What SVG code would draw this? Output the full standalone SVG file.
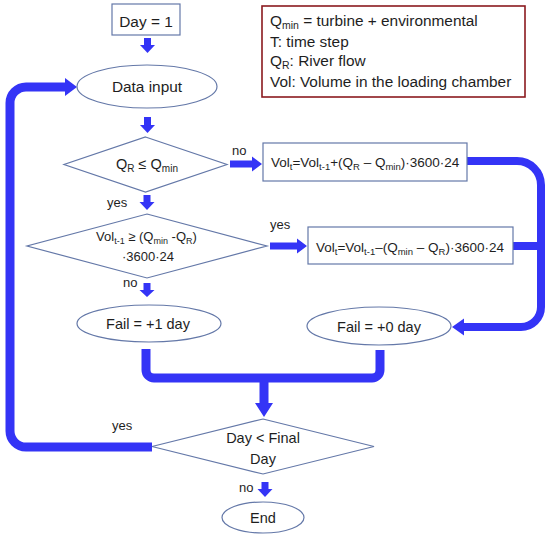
<svg xmlns="http://www.w3.org/2000/svg" width="550" height="537" viewBox="0 0 550 537">
<style>
.s{fill:#fff;stroke:#6478a8;stroke-width:1.2}
.t{font-family:"Liberation Sans",Arial,sans-serif;fill:#1e1e1e}
.m{font-size:15.4px}
.b{font-size:13.5px}
.l{font-size:13px}
.c{fill:none;stroke:#3434f6;stroke-linejoin:round}
.a{fill:#3434f6}
</style>
<rect width="550" height="537" fill="#fff"/>
<g id="connectors">
<polygon class="a" points="144,38 151,38 151,45 155,45 147.5,53 140,45 144,45"/>
<polygon class="a" points="144,117 151,117 151,125 155,125 147.5,133 140,125 144,125"/>
<polygon class="a" points="143.5,195 150.5,195 150.5,202 154.5,202 147,210 139.5,202 143.5,202"/>
<polygon class="a" points="143.5,283 150.5,283 150.5,290 154.5,290 147,297 139.5,290 143.5,290"/>
<polygon class="a" points="230,160.5 252,160.5 252,156.5 262,164 252,171.5 252,167.5 230,167.5"/>
<polygon class="a" points="270,242.5 297,242.5 297,238.5 307,246 297,253.5 297,249.5 270,249.5"/>
<polygon class="a" points="261.5,482 268.5,482 268.5,489 272.5,489 265,497 257.5,489 261.5,489"/>
<path class="c" stroke-width="8" d="M467,161 H517 A24,24 0 0 1 541,185 V307 A20,20 0 0 1 521,327 H462"/>
<polygon class="a" points="452,327 464,318.5 464,335.5"/>
<path class="c" stroke-width="8" d="M513,246 H541"/>
<path class="c" stroke-width="9" d="M146,349 V370 A8,8 0 0 0 154,378 H372 A8,8 0 0 0 380,370 V350"/>
<polygon class="a" points="259.5,378 268.5,378 268.5,403 273,403 264,417 255,403 259.5,403"/>
<path class="c" stroke-width="9" d="M152,447 H26 A16,16 0 0 1 10,431 V103 A16,16 0 0 1 26,87 H66"/>
<polygon class="a" points="77,87 65,78 65,96"/>
</g>
<g id="legend">
<rect x="262" y="6" width="263" height="91" fill="#fff" stroke="#8b1a1f" stroke-width="1.6"/>
<text class="t m" x="270" y="26">Q<tspan font-size="10.5" dy="3">min</tspan><tspan dy="-3"> = turbine + environmental</tspan></text>
<text class="t m" x="270" y="46.5">T: time step</text>
<text class="t m" x="270" y="66">Q<tspan font-size="10.5" dy="3">R</tspan><tspan dy="-3">: River flow</tspan></text>
<text class="t m" x="270" y="86.5">Vol: Volume in the loading chamber</text>
</g>
<g id="start">
<rect class="s" x="112" y="4" width="68" height="31"/>
<text class="t m" x="146" y="26.5" text-anchor="middle">Day = 1</text>
</g>
<g id="data-input">
<ellipse class="s" cx="147" cy="86.5" rx="70" ry="21.5"/>
<text class="t m" x="147" y="92" text-anchor="middle">Data input</text>
</g>
<g id="decision-q">
<polygon class="s" points="145.5,137 227,164.5 145.5,192 64,164.5"/>
<text class="t" font-size="14.5" x="147" y="169" text-anchor="middle">Q<tspan font-size="10" dy="3">R</tspan><tspan dy="-3"> ≤ Q</tspan><tspan font-size="10" dy="3">min</tspan></text>
</g>
<g id="box-surplus">
<rect class="s" x="263" y="143" width="204" height="38"/>
<text class="t b" x="271" y="167">Vol<tspan font-size="9.5" dy="3">t</tspan><tspan dy="-3">=Vol</tspan><tspan font-size="9.5" dy="3">t-1</tspan><tspan dy="-3">+(Q</tspan><tspan font-size="9.5" dy="3">R</tspan><tspan dy="-3"> – Q</tspan><tspan font-size="9.5" dy="3">min</tspan><tspan dy="-3">)·3600·24</tspan></text>
</g>
<g id="decision-vol">
<polygon class="s" points="147,214 267,246 147,278 27,246"/>
<text class="t" font-size="13" x="146.5" y="241" text-anchor="middle">Vol<tspan font-size="9" dy="3">t-1</tspan><tspan dy="-3"> ≥ (Q</tspan><tspan font-size="9" dy="3">min</tspan><tspan dy="-3"> -Q</tspan><tspan font-size="9" dy="3">R</tspan><tspan dy="-3">)</tspan></text>
<text class="t" font-size="13" x="148" y="261" text-anchor="middle">·3600·24</text>
</g>
<g id="box-deficit">
<rect class="s" x="308" y="227" width="205" height="37"/>
<text class="t b" x="316" y="251.5">Vol<tspan font-size="9.5" dy="3">t</tspan><tspan dy="-3">=Vol</tspan><tspan font-size="9.5" dy="3">t-1</tspan><tspan dy="-3">–(Q</tspan><tspan font-size="9.5" dy="3">min</tspan><tspan dy="-3"> – Q</tspan><tspan font-size="9.5" dy="3">R</tspan><tspan dy="-3">)·3600·24</tspan></text>
</g>
<g id="fail-1">
<ellipse class="s" cx="149" cy="323.5" rx="72" ry="18.5"/>
<text class="t" font-size="14.5" x="148" y="329" text-anchor="middle">Fail = +1 day</text>
</g>
<g id="fail-0">
<ellipse class="s" cx="379" cy="326" rx="72" ry="19"/>
<text class="t" font-size="14.5" x="379" y="332" text-anchor="middle">Fail = +0 day</text>
</g>
<g id="decision-day">
<polygon class="s" points="263,419 374,446.5 263,474 152,446.5"/>
<text class="t" font-size="14.5" x="263" y="443" text-anchor="middle">Day &lt; Final</text>
<text class="t" font-size="14.5" x="263" y="463.5" text-anchor="middle">Day</text>
</g>
<g id="end">
<ellipse class="s" cx="263" cy="517.5" rx="41" ry="15.5"/>
<text class="t" font-size="14.5" x="263" y="522.5" text-anchor="middle">End</text>
</g>
<g id="labels">
<text class="t l" x="232" y="155">no</text>
<text class="t l" x="107" y="207">yes</text>
<text class="t l" x="270" y="229">yes</text>
<text class="t l" x="123" y="287">no</text>
<text class="t l" x="112" y="430">yes</text>
<text class="t l" x="239" y="492">no</text>
</g>
</svg>
